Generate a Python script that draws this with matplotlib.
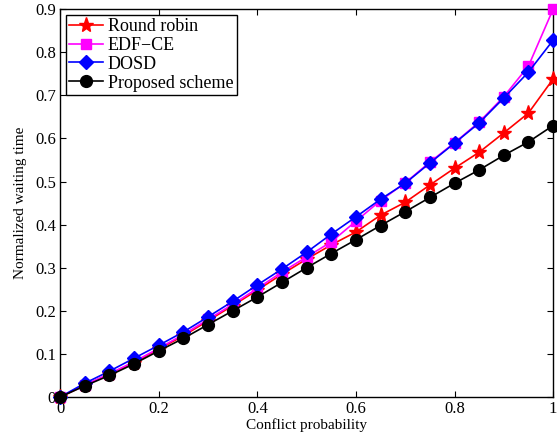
import matplotlib
matplotlib.use('Agg')
import matplotlib.pyplot as plt

plt.rcParams['font.family'] = ['Liberation Serif', 'DejaVu Serif']

# conflict probability 0 .. 1 in steps of 0.05
prob = [0.0, 0.05, 0.1, 0.15, 0.2, 0.25, 0.3, 0.35, 0.4, 0.45, 0.5,
        0.55, 0.6, 0.65, 0.7, 0.75, 0.8, 0.85, 0.9, 0.95, 1.0]

round_robin = [0.0, 0.027, 0.053, 0.080, 0.111, 0.142, 0.177, 0.212, 0.248, 0.285, 0.320,
               0.353, 0.383, 0.422, 0.452, 0.492, 0.531, 0.568, 0.613, 0.659, 0.738]
edf_ce = [0.0, 0.028, 0.054, 0.082, 0.113, 0.145, 0.180, 0.215, 0.252, 0.290, 0.325,
          0.360, 0.408, 0.456, 0.497, 0.545, 0.590, 0.638, 0.697, 0.768, 0.900]
dosd = [0.0, 0.032, 0.060, 0.090, 0.120, 0.151, 0.186, 0.222, 0.260, 0.297, 0.336,
        0.378, 0.418, 0.459, 0.496, 0.543, 0.589, 0.636, 0.694, 0.754, 0.828]
proposed = [0.0, 0.026, 0.050, 0.077, 0.107, 0.136, 0.168, 0.200, 0.232, 0.266, 0.300,
            0.333, 0.365, 0.398, 0.430, 0.463, 0.496, 0.527, 0.561, 0.592, 0.630]

fig = plt.figure(figsize=(5.57, 4.37), dpi=100)
ax = fig.add_axes([0.108, 0.0915, 0.885, 0.8875])

ax.plot(prob, round_robin, color='red', marker='*', markersize=11, lw=1.2,
        label='Round robin', clip_on=False, zorder=3)
ax.plot(prob, edf_ce, color='magenta', marker='s', markersize=6.5, lw=1.2,
        label='EDF\u2212CE', clip_on=False, zorder=4)
ax.plot(prob, dosd, color='blue', marker='D', markersize=7.5, lw=1.2,
        label='DOSD', clip_on=False, zorder=5)
ax.plot(prob, proposed, color='black', marker='o', markersize=8.5, lw=1.2,
        label='Proposed scheme', clip_on=False, zorder=6)

ax.set_xlim(0, 1)
ax.set_ylim(0, 0.9)
ax.set_xticks([0, 0.2, 0.4, 0.6, 0.8, 1])
ax.set_xticklabels(['0', '0.2', '0.4', '0.6', '0.8', '1'])
ax.set_yticks([0, 0.1, 0.2, 0.3, 0.4, 0.5, 0.6, 0.7, 0.8, 0.9])
ax.set_yticklabels(['0', '0.1', '0.2', '0.3', '0.4', '0.5', '0.6', '0.7', '0.8', '0.9'])
ax.tick_params(direction='in', top=True, right=True, labelsize=12, length=4, pad=3)
for s in ax.spines.values():
    s.set_linewidth(1.0)

ax.set_xlabel('Conflict probability', fontsize=11, labelpad=1)
ax.set_ylabel('Normalized waiting time', fontsize=11, labelpad=6)

leg = ax.legend(loc='upper left', fontsize=13, fancybox=False, framealpha=1,
                edgecolor='black', borderaxespad=0.3, handlelength=1.9,
                handletextpad=0.25, borderpad=0.2, labelspacing=0.1)
leg.get_frame().set_linewidth(1.0)

fig.savefig('out.png', dpi=100)
